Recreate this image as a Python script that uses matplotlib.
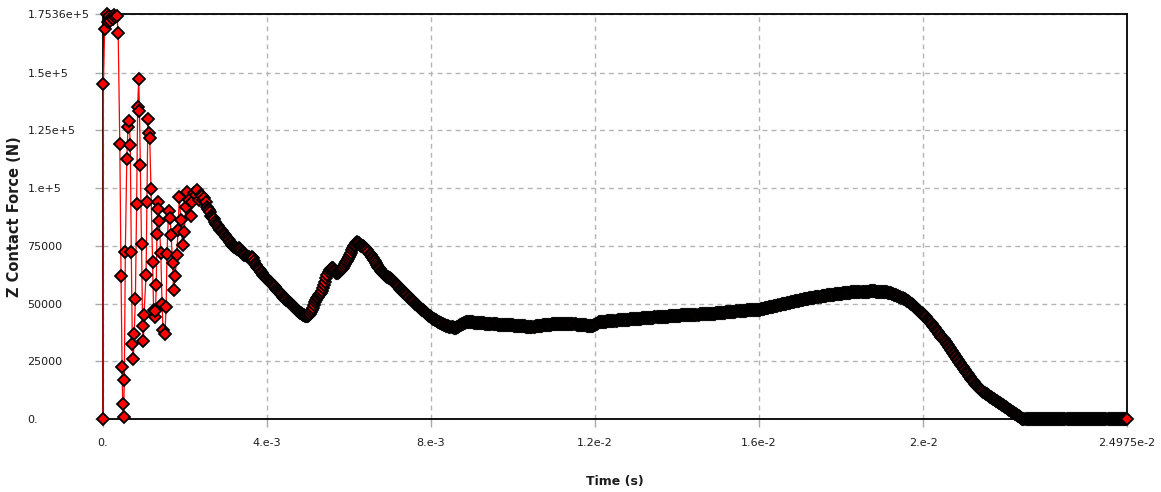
import numpy as np
import matplotlib
matplotlib.use("Agg")
import matplotlib.pyplot as plt

# ---------------- data (time in ms, force in kN) ----------------
# early ringing phase, irregularly read points
early_time_ms = [0.000, 0.010, 0.040, 0.090, 0.120, 0.150, 0.180, 0.210, 0.240, 0.270,
                 0.300, 0.340, 0.370, 0.410, 0.440, 0.465, 0.480, 0.500, 0.520, 0.545,
                 0.580, 0.610, 0.640, 0.665, 0.690, 0.715, 0.740, 0.760, 0.790, 0.820,
                 0.845, 0.870, 0.890, 0.910, 0.940, 0.965, 0.985, 1.000, 1.050, 1.070,
                 1.095, 1.115, 1.140, 1.170, 1.210, 1.235, 1.260, 1.280, 1.300, 1.315,
                 1.335, 1.350, 1.370, 1.410, 1.440, 1.465, 1.510, 1.540, 1.560, 1.600,
                 1.640, 1.660, 1.700, 1.720, 1.760, 1.800, 1.830, 1.860, 1.900, 1.940,
                 1.980, 2.020, 2.060, 2.100, 2.140, 2.180, 2.220, 2.260, 2.300, 2.340]
early_force_kN = [0.0, 145.0, 169.0, 175.36, 172.0, 174.5, 172.5, 174.0, 173.0, 175.0,
                  174.0, 174.5, 167.0, 119.0, 62.0, 22.6, 6.4, 0.7, 16.9, 72.4,
                  112.5, 126.5, 129.0, 118.6, 72.4, 32.3, 25.8, 36.7, 52.0, 93.0,
                  135.0, 147.0, 133.5, 110.0, 75.6, 40.4, 33.8, 45.0, 62.3, 94.0,
                  130.0, 124.0, 121.5, 99.6, 68.0, 47.0, 44.0, 46.8, 58.0, 80.0,
                  94.0, 91.0, 85.7, 71.7, 49.6, 38.5, 37.0, 48.6, 71.3, 90.0,
                  86.9, 79.7, 67.4, 55.8, 62.0, 71.0, 81.8, 96.0, 86.0, 75.3,
                  81.0, 92.0, 98.4, 95.0, 88.0, 94.0, 98.0, 97.0, 99.0, 95.0]

# dense phase: one value every 0.025 ms from 2.400 ms up to 24.975 ms
dense_start_ms = 2.400
dense_step_ms = 0.025
dense_force_kN = [
    # 2.400 - 2.975
    97, 96.5, 95, 95.5, 94, 92, 91, 90.5, 89.5, 88, 87.5, 87.2, 86.5, 85.2, 84.5, 84.2, 83.5, 82.6, 82, 81.8, 81.2, 80.4, 80, 79.6,
    # 3.000 - 3.975
    79, 78.2, 77.8, 77.3, 76.5, 76.0, 75.5, 75.0, 74.5, 74.3, 74, 73.6, 73.5, 73.9, 73.8, 72.8, 72, 71.5, 71, 70.8,
    70.5, 70.3, 70, 69.6, 69.5, 70.0, 69.8, 68.4, 67.2, 66.6, 66, 65.5, 65, 64.4, 63.8, 63.1, 62.5, 62.0, 61.5, 61.0,
    # 4.000 - 4.975
    60.5, 60.1, 59.8, 59.4, 59, 58.5, 58, 57.5, 57, 56.5, 56, 55.5, 55, 54.5, 54, 53.5, 53, 52.5, 52, 51.5,
    51, 50.6, 50.2, 49.9, 49.5, 49.0, 48.5, 48.0, 47.5, 47.1, 46.8, 46.4, 46, 45.7, 45.4, 45.1, 44.9, 44.7, 44.6, 44.5,
    # 5.000 - 5.975
    44.5, 44.9, 45.5, 46.2, 47, 48.2, 49.5, 50.5, 51.5, 52.3, 53, 53.5, 54, 54.6, 55.5, 56.6, 58, 59.5, 61, 62.3,
    63.5, 64.3, 65, 65.2, 65.2, 64.6, 64, 63.4, 63, 63.2, 63.5, 64.0, 64.5, 65.0, 65.5, 66.2, 67, 67.8, 68.5, 69.2,
    # 6.000 - 6.975
    70, 71, 72, 73, 74, 74.8, 75.5, 76.1, 76.5, 76.4, 76, 75.4, 75, 74.9, 74.8, 74.4, 74, 73.5, 73, 72.3,
    71.5, 70.8, 70.2, 69.6, 69, 68.2, 67.5, 66.7, 66, 65.4, 64.8, 64.1, 63.5, 63.1, 62.8, 62.4, 62, 61.7, 61.5, 61.2,
    # 7.000 - 7.975
    61, 60.7, 60.3, 59.9, 59.5, 59, 58.5, 58, 57.5, 57, 56.5, 56, 55.5, 55.1, 54.8, 54.4, 54, 53.5, 53, 52.5,
    52, 51.5, 51, 50.5, 50, 49.6, 49.2, 48.8, 48.5, 48.1, 47.8, 47.4, 47, 46.6, 46.2, 45.8, 45.5, 45.1, 44.8, 44.4,
    # 8.000 - 8.975
    44, 43.7, 43.5, 43.2, 43, 42.7, 42.5, 42.2, 42, 41.7, 41.5, 41.2, 41, 40.8, 40.6, 40.4, 40.3, 40.1, 40, 39.9,
    39.8, 39.7, 39.6, 39.5, 39.5, 39.7, 40, 40.2, 40.5, 40.7, 41, 41.2, 41.5, 41.7, 41.8, 41.9, 42, 42.0, 41.9, 41.9,
    # 9.000 - 9.975
    41.8, 41.8, 41.7, 41.7, 41.6, 41.6, 41.6, 41.5, 41.5, 41.5, 41.4, 41.4, 41.4, 41.3, 41.3, 41.2, 41.2, 41.2, 41.2, 41.1,
    41.1, 41.0, 41.0, 41.0, 41.0, 40.9, 40.9, 40.8, 40.8, 40.7, 40.7, 40.7, 40.7, 40.6, 40.6, 40.5, 40.5, 40.5, 40.5, 40.5,
    # 10.000 - 10.975
    40.5, 40.4, 40.4, 40.3, 40.3, 40.3, 40.3, 40.2, 40.2, 40.1, 40.1, 40.1, 40.1, 40.0, 40.0, 40.0, 40.0, 40.0, 40.0, 40.0,
    40.0, 40.0, 40.1, 40.1, 40.2, 40.2, 40.3, 40.3, 40.4, 40.5, 40.6, 40.6, 40.7, 40.7, 40.8, 40.8, 40.9, 40.9, 41.0, 41.0,
    # 11.000 - 11.975
    41.0, 41.0, 41.1, 41.1, 41.1, 41.1, 41.2, 41.2, 41.2, 41.2, 41.2, 41.2, 41.2, 41.2, 41.1, 41.1, 41.0, 41.0, 41.0, 41.0,
    41.0, 41.0, 40.9, 40.9, 40.8, 40.8, 40.7, 40.7, 40.6, 40.6, 40.5, 40.5, 40.4, 40.4, 40.3, 40.3, 40.2, 40.2, 40.3, 40.5,
    # 12.000 - 12.975
    40.8, 41.0, 41.3, 41.6, 41.8, 41.9, 42.0, 42.0, 42.1, 42.1, 42.2, 42.2, 42.3, 42.3, 42.4, 42.4, 42.5, 42.5, 42.5, 42.5,
    42.6, 42.6, 42.7, 42.7, 42.8, 42.8, 42.8, 42.8, 42.9, 42.9, 43.0, 43.0, 43.0, 43.0, 43.1, 43.1, 43.2, 43.2, 43.3, 43.3,
    # 13.000 - 13.975
    43.4, 43.4, 43.5, 43.5, 43.5, 43.5, 43.6, 43.6, 43.7, 43.7, 43.7, 43.7, 43.8, 43.8, 43.9, 43.9, 43.9, 43.9, 44.0, 44.0,
    44.1, 44.1, 44.1, 44.1, 44.2, 44.2, 44.2, 44.2, 44.3, 44.3, 44.3, 44.3, 44.4, 44.4, 44.5, 44.5, 44.5, 44.5, 44.6, 44.7,
    # 14.000 - 14.975
    44.8, 44.8, 44.8, 44.8, 44.9, 44.9, 44.9, 44.9, 45.0, 45.0, 45.0, 45.0, 45.1, 45.1, 45.1, 45.1, 45.2, 45.2, 45.2, 45.2,
    45.2, 45.2, 45.3, 45.3, 45.3, 45.3, 45.4, 45.4, 45.4, 45.4, 45.5, 45.5, 45.5, 45.5, 45.6, 45.6, 45.6, 45.6, 45.7, 45.7,
    # 15.000 - 15.975
    45.8, 45.8, 45.9, 45.9, 46.0, 46.0, 46.1, 46.1, 46.2, 46.2, 46.3, 46.3, 46.3, 46.3, 46.4, 46.4, 46.5, 46.5, 46.6, 46.6,
    46.7, 46.7, 46.8, 46.8, 46.8, 46.8, 46.9, 46.9, 47.0, 47.0, 47.1, 47.1, 47.2, 47.2, 47.2, 47.2, 47.3, 47.3, 47.3, 47.3,
    # 16.000 - 16.975
    47.4, 47.4, 47.5, 47.6, 47.7, 47.8, 47.9, 48.0, 48.1, 48.2, 48.3, 48.4, 48.5, 48.6, 48.7, 48.8, 48.9, 49.0, 49.1, 49.2,
    49.4, 49.5, 49.6, 49.7, 49.8, 49.9, 50.0, 50.1, 50.2, 50.3, 50.4, 50.5, 50.6, 50.7, 50.8, 50.9, 51.0, 51.1, 51.2, 51.3,
    # 17.000 - 17.975
    51.4, 51.5, 51.6, 51.7, 51.8, 51.9, 52.0, 52.0, 52.1, 52.2, 52.3, 52.4, 52.5, 52.5, 52.6, 52.7, 52.8, 52.8, 52.9, 52.9,
    53.0, 53.1, 53.2, 53.2, 53.3, 53.4, 53.5, 53.5, 53.6, 53.6, 53.7, 53.8, 53.9, 53.9, 54.0, 54.0, 54.1, 54.1, 54.2, 54.2,
    # 18.000 - 18.975
    54.3, 54.3, 54.4, 54.4, 54.5, 54.5, 54.6, 54.6, 54.7, 54.7, 54.8, 54.8, 54.9, 54.9, 55.0, 55.0, 55.0, 55.0, 55.1, 55.1,
    55.1, 55.1, 55.2, 55.2, 55.2, 55.2, 55.2, 55.2, 55.3, 55.3, 55.3, 55.3, 55.3, 55.3, 55.2, 55.2, 55.2, 55.2, 55.2, 55.1,
    # 19.000 - 19.975
    55.1, 55.0, 55.0, 55.0, 54.9, 54.8, 54.7, 54.6, 54.5, 54.4, 54.2, 54.1, 53.9, 53.8, 53.6, 53.4, 53.2, 53.0, 52.8, 52.6,
    52.3, 52.1, 51.8, 51.5, 51.2, 50.9, 50.6, 50.3, 49.9, 49.6, 49.2, 48.9, 48.5, 48.1, 47.7, 47.3, 46.9, 46.5, 46.1, 45.7,
    # 20.000 - 20.975
    45.3, 44.9, 44.4, 44.0, 43.5, 43.0, 42.5, 42.0, 41.5, 41.0, 40.4, 39.9, 39.3, 38.7, 38.1, 37.5, 36.9, 36.3, 35.7, 35.1,
    34.5, 33.9, 33.2, 32.6, 31.9, 31.3, 30.6, 30.0, 29.3, 28.7, 28.0, 27.4, 26.7, 26.1, 25.4, 24.8, 24.1, 23.5, 22.9, 22.3,
    # 21.000 - 21.975
    21.7, 21.1, 20.5, 19.9, 19.3, 18.7, 18.1, 17.5, 17.0, 16.4, 15.9, 15.3, 14.8, 14.3, 13.9, 13.4, 13.0, 12.6, 12.2, 11.8,
    11.4, 11.0, 10.7, 10.3, 10.0, 9.7, 9.4, 9.1, 8.8, 8.5, 8.2, 7.9, 7.6, 7.3, 7.1, 6.8, 6.5, 6.2, 6.0, 5.6,
    # 22.000 - 22.975
    5.3, 5.0, 4.7, 4.4, 4.1, 3.8, 3.5, 3.2, 2.9, 2.6, 2.3, 2.0, 1.7, 1.4, 1.1, 0.8, 0.5, 0.2, 0, 0,
    0, 0, 0, 0, 0, 0, 0, 0, 0, 0, 0, 0, 0, 0, 0, 0, 0, 0, 0, 0,
    # 23.000 - 23.975
    0, 0, 0, 0, 0, 0, 0, 0, 0, 0, 0, 0, 0, 0, 0, 0, 0, 0, 0, 0,
    0, 0, 0, 0, 0, 0, 0, 0, 0, 0, 0, 0, 0, 0, 0, 0, 0, 0, 0, 0,
    # 24.000 - 24.975
    0, 0, 0, 0, 0, 0, 0, 0, 0, 0, 0, 0, 0, 0, 0, 0, 0, 0, 0, 0,
    0, 0, 0, 0, 0, 0, 0, 0, 0, 0, 0, 0, 0, 0, 0, 0, 0, 0, 0, 0,
]

x_ticks = [0.0, 4e-3, 8e-3, 1.2e-2, 1.6e-2, 2e-2, 2.4975e-2]
x_tick_labels = ["0.", "4.e-3", "8.e-3", "1.2e-2", "1.6e-2", "2.e-2", "2.4975e-2"]
y_ticks = [0, 25000, 50000, 75000, 100000, 125000, 150000, 175360]
y_tick_labels = ["0.", "25000", "50000", "75000", "1.e+5", "1.25e+5", "1.5e+5", "1.7536e+5"]
x_label = "Time (s)"
y_label = "Z Contact Force (N)"

# ---------------- assemble ----------------
dense_time_ms = dense_start_ms + dense_step_ms * np.arange(len(dense_force_kN))
time_s = np.concatenate([early_time_ms, dense_time_ms]) / 1000.0
force_N = np.concatenate([early_force_kN, dense_force_kN]) * 1000.0

plt.rcParams["font.family"] = ["DejaVu Sans"]

W, H = 1161, 492
fig = plt.figure(figsize=(W / 100, H / 100), dpi=100)
ax = fig.add_axes([103 / W, (H - 419) / H, 1024 / W, 405 / H])

ax.plot(time_s, force_N, color="#ff0000", lw=0.9, marker="D", ms=5.8,
        mfc="#ff0000", mec="black", mew=1.3, clip_on=False, zorder=4)

ax.set_xlim(0, 2.4975e-2)
ax.set_ylim(0, 175360)
ax.set_xticks(x_ticks)
ax.set_xticklabels(x_tick_labels)
ax.set_yticks(y_ticks)
ax.set_yticklabels(y_tick_labels)

ax.set_axisbelow(True)
ax.grid(True, color="#b4b4b4", linestyle=(0, (3.5, 3)), linewidth=1.0)

for s in ax.spines.values():
    s.set_color("black")
    s.set_linewidth(1.3)

ax.tick_params(axis="both", direction="out", length=5.8, width=1.0, color="#a8a8a8",
               labelcolor="#1c1c1c", labelsize=8)
ax.tick_params(axis="x", pad=8)
ax.tick_params(axis="y", pad=48.5)
for lab in ax.get_yticklabels():
    lab.set_horizontalalignment("left")

ax.set_xlabel(x_label, fontsize=9, fontweight="bold", color="#1c1c1c")
ax.set_ylabel(y_label, fontsize=10.5, fontweight="bold", color="#1c1c1c")
ax.xaxis.label.set_verticalalignment("center")
ax.yaxis.label.set_verticalalignment("center")
ax.xaxis.set_label_coords(0.5, (419 - 481.5) / 405)
ax.yaxis.set_label_coords((15 - 103) / 1024, 0.5)

fig.savefig("out.png", dpi=100)
